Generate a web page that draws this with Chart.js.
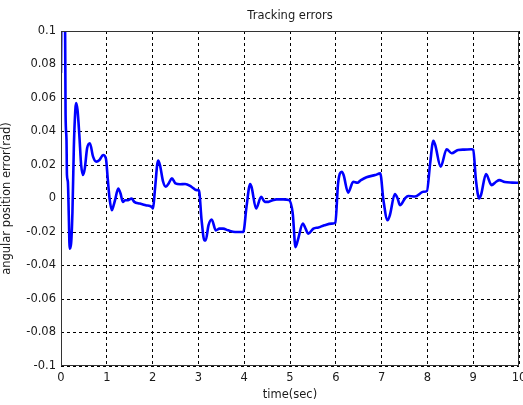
<!DOCTYPE html>
<html>
<head>
<meta charset="utf-8">
<title>Tracking errors</title>
<script src="https://cdn.jsdelivr.net/npm/chart.js@4/dist/chart.umd.min.js"></script>
<style>
  html, body { margin: 0; padding: 0; background: #ffffff; }
  #wrap { width: 523px; height: 405px; }
</style>
</head>
<body>
<div id="wrap"><canvas id="c" width="523" height="405"></canvas></div>
<script>
// Simulated joint tracking error over a 10 s run
const timeSec = [
  0.00, 0.02, 0.08, 0.10, 0.12, 0.13, 0.15, 0.17, 0.19, 0.22, 0.25, 0.28, 0.30, 0.33, 0.36,
  0.40, 0.44, 0.48, 0.52, 0.57, 0.63, 0.70, 0.77, 0.84, 0.92, 0.98,
  1.02, 1.06, 1.11, 1.15, 1.18, 1.25, 1.30, 1.35, 1.40, 1.47, 1.54, 1.60, 1.72, 1.85, 1.98,
  2.01, 2.05, 2.12, 2.16, 2.23, 2.29, 2.35, 2.42, 2.50, 2.60, 2.71, 2.85, 2.96,
  3.01, 3.07, 3.13, 3.16, 3.22, 3.29, 3.38, 3.46, 3.54, 3.65, 3.80, 3.98,
  4.05, 4.13, 4.16, 4.26, 4.37, 4.45, 4.53, 4.62, 4.71, 4.85, 4.98,
  5.06, 5.12, 5.17, 5.28, 5.34, 5.40, 5.51, 5.62, 5.75, 5.91, 5.99,
  6.05, 6.13, 6.17, 6.27, 6.38, 6.47, 6.55, 6.67, 6.86, 6.97,
  7.04, 7.13, 7.18, 7.29, 7.35, 7.40, 7.51, 7.58, 7.73, 7.91, 7.99,
  8.06, 8.13, 8.17, 8.29, 8.42, 8.53, 8.67, 8.80, 8.96, 9.00,
  9.06, 9.13, 9.17, 9.28, 9.40, 9.50, 9.57, 9.69, 9.85, 10.00
];
const angErr = [
  0.075, 0.140, 0.140, 0.050, 0.035, 0.014, 0.010, -0.010, -0.030, -0.027, -0.008, 0.030, 0.046, 0.057, 0.053,
  0.038, 0.020, 0.014, 0.018, 0.030, 0.033, 0.025, 0.022, 0.023, 0.026, 0.024,
  0.012, 0.000, -0.007, -0.004, -0.001, 0.006, 0.003, -0.002, -0.001, -0.001, 0.000, -0.002, -0.003, -0.004, -0.005,
  -0.006, 0.005, 0.0226, 0.020, 0.010, 0.007, 0.009, 0.012, 0.009, 0.0085, 0.0087, 0.007, 0.005,
  0.005, -0.013, -0.025, -0.025, -0.016, -0.0125, -0.019, -0.018, -0.018, -0.019, -0.020, -0.020,
  -0.005, 0.0087, 0.007, -0.006, 0.001, -0.002, -0.002, -0.001, -0.0005, -0.0005, -0.001,
  -0.009, -0.029, -0.025, -0.015, -0.018, -0.021, -0.018, -0.0173, -0.016, -0.015, -0.0145,
  0.009, 0.016, 0.014, 0.0035, 0.010, 0.0094, 0.011, 0.0127, 0.014, 0.015,
  -0.001, -0.013, -0.010, 0.0027, 0.000, -0.004, 0.000, 0.0015, 0.0012, 0.004, 0.0045,
  0.021, 0.0345, 0.032, 0.019, 0.0294, 0.027, 0.029, 0.0292, 0.0294, 0.029,
  0.011, 0.000, 0.002, 0.0146, 0.008, 0.010, 0.011, 0.0098, 0.0095, 0.0094
];

const xTickValues = [0, 1, 2, 3, 4, 5, 6, 7, 8, 9, 10];
const xTickLabels = ['0', '1', '2', '3', '4', '5', '6', '7', '8', '9', '10'];
const yTickValues = [-0.1, -0.08, -0.06, -0.04, -0.02, 0, 0.02, 0.04, 0.06, 0.08, 0.1];
const yTickLabels = ['-0.1', '-0.08', '-0.06', '-0.04', '-0.02', '0', '0.02', '0.04', '0.06', '0.08', '0.1'];

const points = timeSec.map((t, i) => ({ x: t, y: angErr[i] }));

const FONT = "'DejaVu Sans', 'Liberation Sans', Arial, sans-serif";
const TEXT = '#1a1a1a';

// Solid frame around the axes box
const boxFrame = {
  id: 'boxFrame',
  afterDraw(chart) {
    const { ctx, chartArea: a } = chart;
    ctx.save();
    ctx.strokeStyle = '#333333';
    ctx.lineWidth = 1;
    ctx.setLineDash([]);
    ctx.strokeRect(Math.round(a.left) + 0.5, Math.round(a.top) + 0.5,
                   Math.round(a.right - a.left) - 1, Math.round(a.bottom - a.top) - 1);
    ctx.restore();
  }
};

new Chart(document.getElementById('c'), {
  type: 'line',
  data: {
    datasets: [{
      data: points,
      borderColor: '#0000ff',
      borderWidth: 2.6,
      pointRadius: 0,
      fill: false,
      cubicInterpolationMode: 'monotone',
      clip: 0
    }]
  },
  options: {
    responsive: false,
    animation: false,
    layout: { padding: { left: 0, right: 4, top: 0, bottom: 0 } },
    plugins: {
      legend: { display: false },
      tooltip: { enabled: false },
      title: {
        display: true,
        text: 'Tracking errors',
        fullSize: false,
        color: TEXT,
        font: { family: FONT, size: 11.5, weight: 'normal', lineHeight: 1.2 },
        padding: { top: 9.6, bottom: 7.6 }
      }
    },
    scales: {
      x: {
        type: 'linear',
        min: 0,
        max: 10,
        afterBuildTicks(scale) { scale.ticks = xTickValues.map(v => ({ value: v })); },
        afterFit(scale) {
          scale.height = 39;
          scale.paddingLeft = 0;
          scale.paddingRight = 0;
        },
        ticks: {
          autoSkip: false,
          maxRotation: 0,
          padding: 5,
          color: TEXT,
          font: { family: FONT, size: 11.5 },
          callback: (v, i) => xTickLabels[i]
        },
        grid: { color: '#000000', lineWidth: 1, drawTicks: false },
        border: { display: false, dash: [3, 3] },
        title: {
          display: true,
          text: 'time(sec)',
          color: TEXT,
          font: { family: FONT, size: 11.5, lineHeight: 1.2 },
          padding: { top: 0, bottom: 3 }
        }
      },
      y: {
        type: 'linear',
        min: -0.1,
        max: 0.1,
        afterBuildTicks(scale) { scale.ticks = yTickValues.map(v => ({ value: v })); },
        afterFit(scale) {
          scale.width = 61;
          scale.paddingTop = 0;
          scale.paddingBottom = 0;
        },
        ticks: {
          autoSkip: false,
          padding: 5,
          color: TEXT,
          font: { family: FONT, size: 11.5 },
          callback: (v, i) => yTickLabels[i]
        },
        grid: { color: '#000000', lineWidth: 1, drawTicks: false },
        border: { display: false, dash: [3, 3] },
        title: {
          display: true,
          text: 'angular position error(rad)',
          color: TEXT,
          font: { family: FONT, size: 11.5, lineHeight: 1.2 },
          padding: { top: 0, bottom: 0 }
        }
      }
    }
  },
  plugins: [boxFrame]
});
</script>
</body>
</html>
